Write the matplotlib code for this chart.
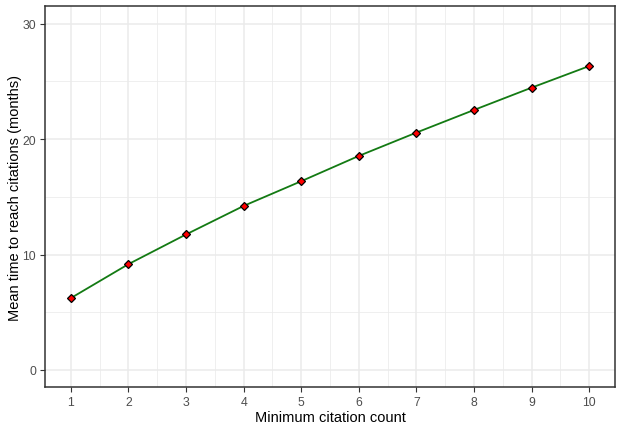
import numpy as np
import matplotlib.pyplot as plt

plt.rcParams['font.family'] = ['Liberation Sans', 'DejaVu Sans']

# data
min_count = [1, 2, 3, 4, 5, 6, 7, 8, 9, 10]
mean_months = [6.23, 9.17, 11.74, 14.21, 16.35, 18.54, 20.56, 22.52, 24.45, 26.32]

fig = plt.figure(figsize=(6.23, 4.31), dpi=100)
ax = fig.add_axes([45/623, (431-388.3)/431, (615-45)/623, (388.3-7.3)/431])

ax.plot(min_count, mean_months, color='#137a13', lw=1.3, zorder=3)
ax.plot(min_count, mean_months, ls='none', marker='D', ms=4.0, mfc='red',
        mec='black', mew=0.9, zorder=4)

ax.set_xlim(0.55, 10.45)
ax.set_ylim(-1.5, 31.5)
ax.set_xticks(min_count)
ax.set_yticks([0, 10, 20, 30])
ax.set_xticks(np.arange(1.5, 10, 1), minor=True)
ax.set_yticks([5, 15, 25], minor=True)

ax.grid(which='major', color='#ebebeb', lw=1.1, zorder=0)
ax.grid(which='minor', color='#ebebeb', lw=0.55, zorder=0)
ax.set_axisbelow(True)

for s in ax.spines.values():
    s.set_color('#333333')
    s.set_linewidth(1.1)

ax.tick_params(which='major', length=3.5, width=0.8, color='#333333',
               labelcolor='#4d4d4d', labelsize=8.8, pad=3)
ax.tick_params(which='minor', length=0)

ax.set_xlabel('Minimum citation count', fontsize=10.5, labelpad=1.5)
ax.set_ylabel('Mean time to reach citations (months)', fontsize=10.5, labelpad=0.5)

fig.savefig('out.png', dpi=100)
